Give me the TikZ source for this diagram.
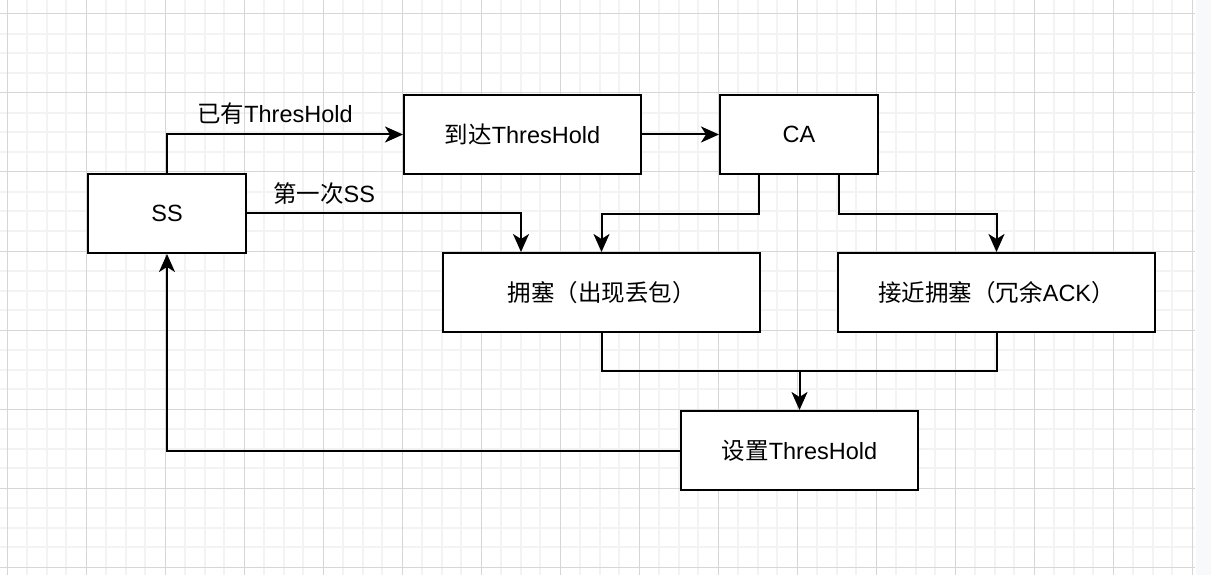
\documentclass[tikz,border=0pt]{standalone}
\usepackage{fontspec}
\setmainfont{Liberation Sans}
\newfontfamily\cjk{Noto Sans CJK SC}
\newcommand{\zh}[1]{{\cjk #1}}
\usetikzlibrary{arrows.meta, positioning}
\definecolor{gridminor}{HTML}{F3F3F3}
\definecolor{gridmajor}{HTML}{D6D6D6}
\definecolor{sidebar}{HTML}{F8F9FB}
\tikzstyle{texto} = [font=\fontsize{23.5}{28}\selectfont, inner sep=0pt]
\tikzstyle{estado} = [texto, draw=black, fill=white, line width=2pt, rectangle, minimum height=79pt]
\tikzstyle{flecha} = [draw=black, line width=2pt, -{Stealth[length=18pt, width=16pt, inset=5pt]}]
\tikzstyle{linea} = [draw=black, line width=2pt]

\begin{document}
\begin{tikzpicture}[x=1pt, y=-1pt]
	\useasboundingbox (0,0) rectangle (1211,575);
	% fondo con rejilla
	\fill[white] (0,0) rectangle (1211,575);
	\fill[sidebar] (1196,0) rectangle (1211,575);
	\foreach \i in {0,...,14}
		\foreach \j in {1,2,3}
			\draw[gridminor, line width=2pt] ({7+79*\i+19.75*\j},0) -- ++(0,575);
	\foreach \i in {0,...,6}
		\foreach \j in {1,2,3}
			\draw[gridminor, line width=2pt] (0,{14+79*\i+19.75*\j}) -- ++(1195,0);
	\foreach \i in {0,...,15}
		\draw[gridmajor, line width=1pt] ({7+79*\i},0) -- ++(0,575);
	\foreach \i in {0,...,7}
		\draw[gridmajor, line width=1pt] (0,{14+79*\i}) -- ++(1195,0);

	% estados
	\node[estado, minimum width=158pt] (ss) at (167,213.5) {SS};
	\node[estado, minimum width=237pt] (reach) at (522.5,134.5) {\zh{到达}ThresHold};
	\node[estado, minimum width=158pt] (ca) at (799,134.5) {CA};
	\node[estado, minimum width=317pt] (loss) at (601.5,292.5) {\zh{拥塞（出现丢包）}};
	\node[estado, minimum width=317pt] (dupack) at (996.5,292.5) {\zh{接近拥塞（冗余}ACK\zh{）}};
	\node[estado, minimum width=237pt] (setth) at (799.5,450.5) {\zh{设置}ThresHold};
	\coordinate (join) at (799.5,371);

	% transiciones
	\draw[flecha] (ss.north) |- (reach.west);
	\node[texto] (lblhave) at (275,114) {\zh{已有}ThresHold};
	\draw[flecha] (ss.east) -| ([xshift=79pt]loss.north west);
	\node[texto] (lblfirst) at (324,194) {\zh{第一次}SS};
	\draw[flecha] (reach.east) -- (ca.west);
	\draw[flecha] ([xshift=39.5pt]ca.south west) -- ++(0,39) -| (loss.north);
	\draw[flecha] ([xshift=-40pt]ca.south east) -- ++(0,39) -| (dupack.north);
	\draw[flecha] (loss.south) |- (join) -- (setth.north);
	\draw[linea] (dupack.south) |- (join);
	\draw[flecha] (setth.west) -| (ss.south);
\end{tikzpicture}
\end{document}
